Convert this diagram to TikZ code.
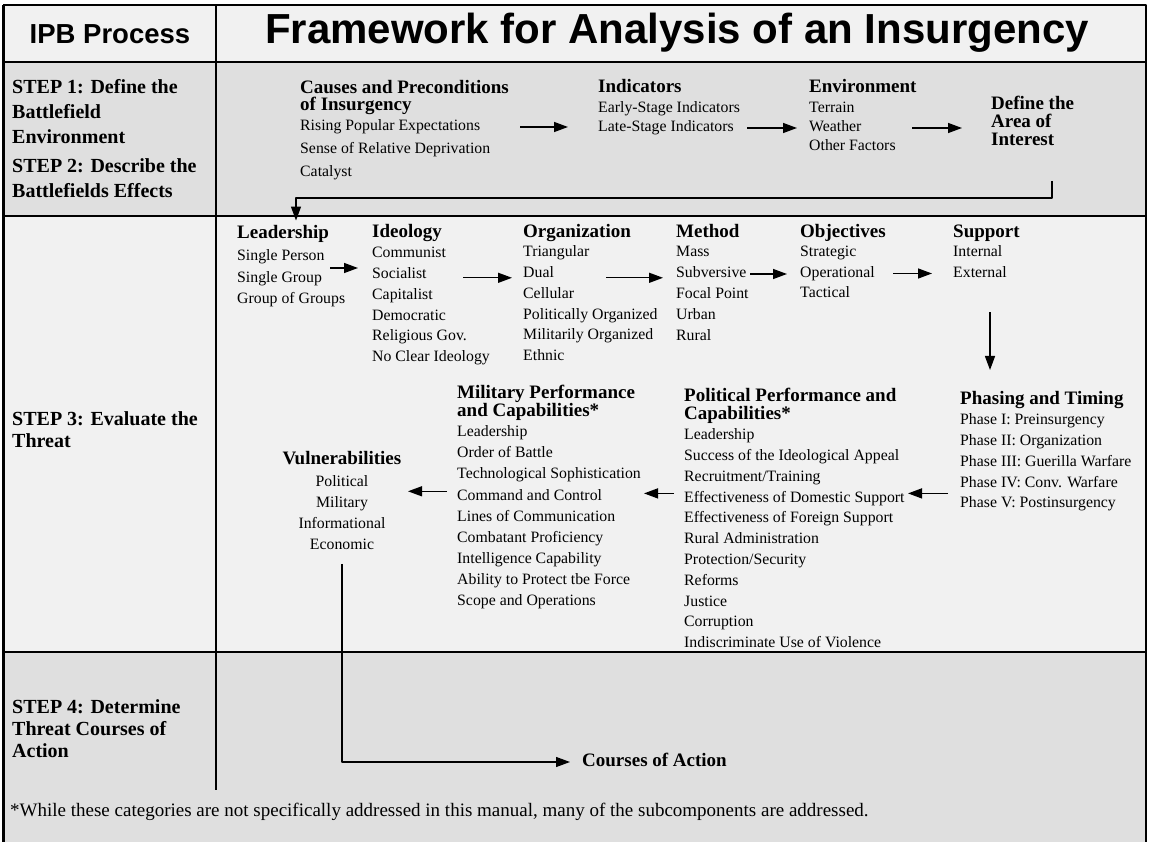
\documentclass[tikz,border=0pt]{standalone}
\usepackage{fontspec}
\setmainfont{Liberation Serif}
\setsansfont{Liberation Sans}
\usetikzlibrary{arrows.meta,calc}
\definecolor{rowgray}{gray}{0.875}
\definecolor{rowlight}{gray}{0.945}

\begin{document}
\begin{tikzpicture}[x=1pt,y=-1pt,line join=round,>={Triangle[length=14pt,width=10pt]},
    item/.style={anchor=west,inner sep=0pt,text height=10.5pt,text depth=3pt,font=\fontsize{15.8}{18}\selectfont},
    head/.style={anchor=west,inner sep=0pt,text height=12.5pt,text depth=4pt,font=\bfseries\fontsize{19}{17}\selectfont},
    headml/.style={anchor=north west,inner sep=0pt,align=left,font=\bfseries\fontsize{19}{17.5}\selectfont},
    steplbl/.style={anchor=north west,inner sep=0pt,align=left,font=\bfseries\fontsize{20}{22}\selectfont},
    arr/.style={->,line width=1.4pt},
    rule/.style={line width=1.4pt}]
    \useasboundingbox (0,0) rectangle (1149,842);
    % rows
    \fill[white] (0,0) rectangle (1149,842);
    \fill[rowlight] (3,5) rectangle (1146,62);
    \fill[rowgray] (3,62) rectangle (1146,216);
    \fill[rowlight] (3,216) rectangle (1146,652);
    \fill[rowgray] (3,652) rectangle (1146,842);
    \draw[line width=3pt] (3,842) -- (3,5);
    \draw[line width=2pt] (3,5) -- (1146,5) -- (1146,842);
    \draw[rule] (3,62) -- (1146,62);
    \draw[rule] (3,216) -- (1146,216);
    \draw[rule] (3,652) -- (1146,652);
    \draw[line width=1.2pt] (216,5) -- (216,790);
    % header
    \node[font=\sffamily\bfseries\fontsize{27.5}{28}\selectfont] (ipb) at (110,34) {IPB Process};
    \node[font=\sffamily\bfseries\fontsize{42}{42}\selectfont] (title) at (677,33) {Framework for Analysis of an Insurgency};
    % steps
    \node[steplbl,font=\bfseries\fontsize{20}{25}\selectfont] (step1) at (12,79) {STEP 1: Define the\\Battlefield\\Environment};
    \node[steplbl,font=\bfseries\fontsize{20}{25}\selectfont] (step2) at (12,158) {STEP 2: Describe the\\Battlefields Effects};
    \node[steplbl] (step3) at (12,411) {STEP 3: Evaluate the\\Threat};
    \node[steplbl] (step4) at (12,699) {STEP 4: Determine\\Threat Courses of\\Action};
    % step 1 and 2
    \node[headml] (causes) at (300,80) {Causes and Preconditions\\of Insurgency};
    \foreach \t [count=\i] in {Rising Popular Expectations,Sense of Relative Deprivation,Catalyst}
        \node[item] (cause\i) at (300,{104+23*\i}) {\t};
    \node[head] (ind) at (598,88) {Indicators};
    \foreach \t [count=\i] in {Early-Stage Indicators,Late-Stage Indicators}
        \node[item] (ind\i) at (598,{90+19*\i}) {\t};
    \node[head] (env) at (809,88) {Environment};
    \foreach \t [count=\i] in {Terrain,Weather,Other Factors}
        \node[item] (env\i) at (809,{90+19*\i}) {\t};
    \node[headml,font=\bfseries\fontsize{19}{18}\selectfont] (aoi) at (991,96) {Define the\\Area of\\Interest};
    \draw[arr] ($(cause1.west -| ind2.west)+(-78,0)$) -- ($(cause1.west -| ind2.west)+(-30,0)$);
    \draw[arr] ($(ind2.west -| env2.west)+(-62,0)$) -- ($(ind2.west -| env2.west)+(-12,0)$);
    \draw[arr] ($(env2.west -| aoi.west)+(-79,0)$) -- ($(env2.west -| aoi.west)+(-29,0)$);
    % step 3, first row
    \node[head] (lead) at (237,234) {Leadership};
    \foreach \t [count=\i] in {Single Person,Single Group,Group of Groups}
        \node[item] (lead\i) at (237,{235.5+21.5*\i}) {\t};
    \node[head] (ideo) at (372,233) {Ideology};
    \foreach \t [count=\i] in {Communist,Socialist,Capitalist,Democratic,Religious Gov.,No Clear Ideology}
        \node[item] (ideo\i) at (372,{233.2+20.8*\i}) {\t};
    \node[head] (org) at (523,233) {Organization};
    \foreach \t [count=\i] in {Triangular,Dual,Cellular,Politically Organized,Militarily Organized,Ethnic}
        \node[item] (org\i) at (523,{232.2+20.8*\i}) {\t};
    \node[head] (meth) at (676,233) {Method};
    \foreach \t [count=\i] in {Mass,Subversive,Focal Point,Urban,Rural}
        \node[item] (meth\i) at (676,{232+21*\i}) {\t};
    \node[head] (obj) at (800,233) {Objectives};
    \foreach \t [count=\i] in {Strategic,Operational,Tactical}
        \node[item] (obj\i) at (800,{232.5+20.5*\i}) {\t};
    \node[head] (sup) at (953,233) {Support};
    \foreach \t [count=\i] in {Internal,External}
        \node[item] (sup\i) at (953,{232.5+20.5*\i}) {\t};
    \draw[arr] ($(lead1.west -| ideo.west)+(-42,11)$) -- ($(lead1.west -| ideo.west)+(-14,11)$);
    \draw[arr] ($(ideo2.west -| org2.west)+(-60,3)$) -- ($(ideo2.west -| org2.west)+(-11,3)$);
    \draw[arr] ($(org2.west -| meth2.west)+(-70,4)$) -- ($(org2.west -| meth2.west)+(-13,4)$);
    \draw[arr] ($(meth2.west -| obj2.west)+(-50,0)$) -- ($(meth2.west -| obj2.west)+(-13,0)$);
    \draw[arr] ($(obj2.west -| sup2.west)+(-60,0)$) -- ($(obj2.west -| sup2.west)+(-21,0)$);
    % step 3, second row
    \node[head] (phase) at (960,400) {Phasing and Timing};
    \foreach \t [count=\i] in {Phase I: Preinsurgency,Phase II: Organization,Phase III: Guerilla Warfare,Phase IV: Conv. Warfare,Phase V: Postinsurgency}
        \node[item] (phase\i) at (960,{400.2+20.8*\i}) {\t};
    \node[headml] (pol) at (684,388) {Political Performance and\\Capabilities*};
    \foreach \t [count=\i] in {Leadership,Success of the Ideological Appeal,Recruitment/Training,Effectiveness of Domestic Support,Effectiveness of Foreign Support,Rural Administration,Protection/Security,Reforms,Justice,Corruption,Indiscriminate Use of Violence}
        \node[item] (pol\i) at (684,{415.2+20.8*\i}) {\t};
    \node[headml] (mil) at (457,385) {Military Performance\\and Capabilities*};
    \foreach \t [count=\i] in {Leadership,Order of Battle,Technological Sophistication,Command and Control,Lines of Communication,Combatant Proficiency,Intelligence Capability,Ability to Protect  tbe Force,Scope and Operations}
        \node[item] (mil\i) at (457,{411.9+21.1*\i}) {\t};
    \node[head,anchor=center] (vul) at (342,460) {Vulnerabilities};
    \foreach \t [count=\i] in {Political,Military,Informational,Economic}
        \node[item,anchor=center] (vul\i) at (342,{462+21*\i}) {\t};
    \draw[arr] ($(sup2.west)+(37,39)$) -- ($(sup2.west |- phase.west)+(37,-30)$);
    \draw[arr] ($(pol4.west -| phase1.west)+(-12,-5)$) -- ($(pol4.west -| phase1.west)+(-52,-5)$);
    \draw[arr] ($(pol4.west)+(-10,-5)$) -- ($(pol4.west)+(-40,-5)$);
    \draw[arr] ($(mil4.west)+(-10,-5)$) -- ($(mil4.west)+(-49,-5)$);
    \draw[arr,line width=1.2pt] ($(aoi.south west)+(61,35)$) -- ++(0,17) -| ($(lead.north west)+(59,-5)$);
    % step 4
    \node[head] (coa) at (582,762) {Courses of Action};
    \draw[arr,line width=1.2pt,shorten >=12pt] ($(vul4.south)+(0,11)$) |- (coa.west);
    \node[anchor=west,inner sep=0pt,font=\fontsize{19}{20}\selectfont] (note) at (10,812) {*While these categories are not specifically addressed in this manual, many of the subcomponents are addressed.};
\end{tikzpicture}
\end{document}
